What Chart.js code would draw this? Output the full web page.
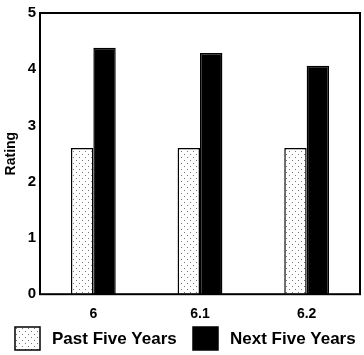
<!DOCTYPE html>
<html>
<head>
<meta charset="utf-8">
<script src="https://cdn.jsdelivr.net/npm/chart.js@4"></script>
<style>
  html, body { margin: 0; padding: 0; background: #fff; }
  #wrap { width: 364px; height: 355px; }
</style>
</head>
<body>
<div id="wrap"><canvas id="ratingChart"></canvas></div>
<script>
const categories = ['6', '6.1', '6.2'];
const pastFive = [2.6, 2.6, 2.6];
const nextFive = [4.38, 4.29, 4.06];
const yTicks = [0, 1, 2, 3, 4, 5];

// dotted fill for the "past" bars
function dotPattern() {
    const c = document.createElement('canvas');
    c.width = 6; c.height = 6;
    const g = c.getContext('2d');
    g.fillStyle = '#fff';
    g.fillRect(0, 0, 6, 6);
    g.fillStyle = '#777';
    g.fillRect(1, 1, 1, 1);
    g.fillRect(4, 4, 1, 1);
    return g.createPattern(c, 'repeat');
}
const dots = dotPattern();

const frame = {
    id: 'frame',
    afterDraw(chart) {
        const { ctx, chartArea: a } = chart;
        ctx.save();
        ctx.strokeStyle = '#000';
        ctx.lineWidth = 2;
        ctx.strokeRect(a.left, a.top, a.right - a.left, a.bottom - a.top);
        ctx.restore();
    }
};

// legend spaced like the original, under the axis
const bottomLegend = {
    id: 'bottomLegend',
    afterDraw(chart) {
        const ctx = chart.ctx;
        const slots = [15, 193];
        ctx.save();
        ctx.font = 'bold 17px "Liberation Sans"';
        ctx.textBaseline = 'middle';
        chart.data.datasets.forEach((ds, i) => {
            const x = slots[i], y = 327;
            ctx.fillStyle = ds.backgroundColor;
            ctx.fillRect(x, y, 25, 23);
            ctx.strokeStyle = '#000';
            ctx.lineWidth = 1.5;
            ctx.strokeRect(x, y, 25, 23);
            ctx.fillStyle = '#000';
            ctx.fillText(ds.label, x + 37, y + 12);
        });
        ctx.restore();
    }
};

new Chart(document.getElementById('ratingChart'), {
    type: 'bar',
    data: {
        labels: categories,
        datasets: [
            { label: 'Past Five Years', data: pastFive, backgroundColor: dots, borderColor: '#000', borderWidth: 1.5 },
            { label: 'Next Five Years', data: nextFive, backgroundColor: '#000', borderColor: '#000', borderWidth: 1.5 }
        ]
    },
    options: {
        responsive: true,
        maintainAspectRatio: false,
        animation: false,
        layout: { padding: { top: 12, right: 4, left: 3, bottom: 28 } },
        datasets: { bar: { categoryPercentage: 0.42, barPercentage: 1.0 } },
        scales: {
            x: {
                grid: { display: false },
                border: { display: false },
                ticks: { color: '#000', font: { family: 'Liberation Sans', weight: 'bold', size: 14 }, padding: 4 }
            },
            y: {
                min: 0,
                max: 5,
                afterFit: s => { s.width = 37; },
                afterBuildTicks: s => { s.ticks = yTicks.map(v => ({ value: v })); },
                grid: { display: false, drawTicks: false },
                border: { display: false },
                title: { display: true, text: 'Rating', color: '#000', font: { family: 'Liberation Sans', weight: 'bold', size: 14 }, padding: 0 },
                ticks: { color: '#000', font: { family: 'Liberation Sans', weight: 'bold', size: 15 }, padding: 4 }
            }
        },
        plugins: {
            legend: { display: false },
            tooltip: { enabled: false }
        }
    },
    plugins: [frame, bottomLegend]
});
</script>
</body>
</html>
